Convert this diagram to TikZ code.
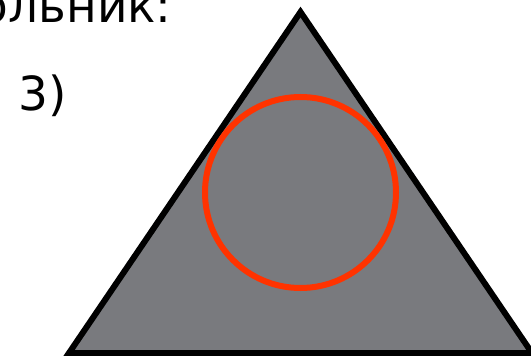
\documentclass[tikz,border=0pt]{standalone}
\usepackage{fontspec}
\setmainfont{DejaVu Sans}
\definecolor{trifill}{HTML}{797A7E}
\definecolor{circred}{HTML}{FF3300}
\begin{document}
\begin{tikzpicture}[x=1pt,y=-1pt,
  lbl/.style={inner sep=0pt,font=\fontsize{47}{56}\selectfont},
  tri/.style={draw=black,fill=trifill,line width=6pt,line join=miter},
  ring/.style={draw=circred,line width=6pt}]
\useasboundingbox (0,0) rectangle (531,356);
\clip (0,0) rectangle (531,356);
\coordinate (A) at (300.5,12);
\coordinate (B) at (69,353);
\coordinate (C) at (532,353);
\draw[tri] (A) -- (B) -- (C) -- cycle;
\coordinate (O) at (300.5,192.5);
\draw[ring] (O) circle[radius=95.5];
\node[lbl,anchor=base east] (title) at (172,22) {ольник:};
\node[lbl,anchor=base west] (num) at (18,110) {3)};
\end{tikzpicture}
\end{document}
